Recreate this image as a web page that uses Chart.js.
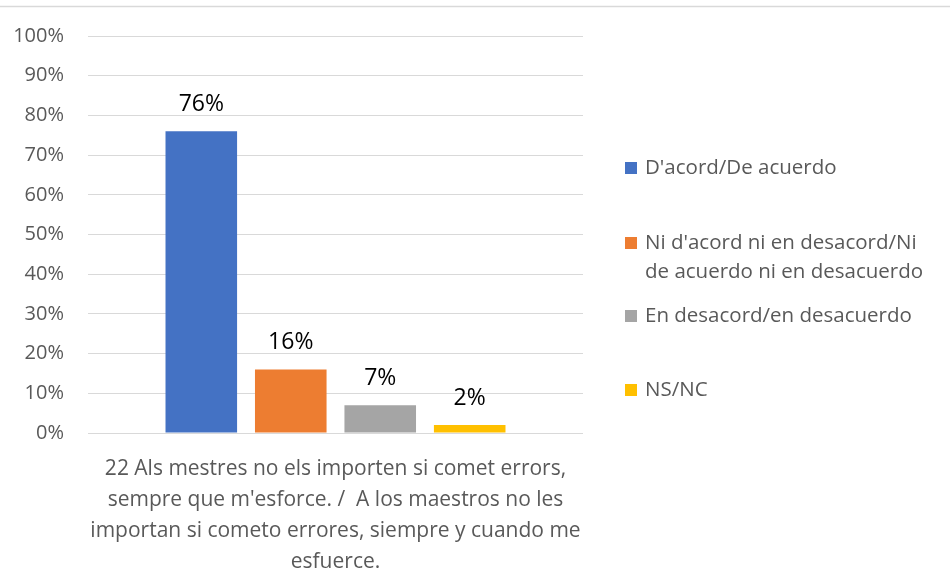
<!DOCTYPE html>
<html>
<head>
<meta charset="utf-8">
<script src="https://cdn.jsdelivr.net/npm/chart.js@4"></script>
<style>
  html, body { margin: 0; padding: 0; background: #fff; }
  #wrap { position: relative; width: 950px; height: 577px; }
  canvas { display: block; }
</style>
</head>
<body>
<div id="wrap"><canvas id="c" width="950" height="577"></canvas></div>
<script>
const categoryLines = [
  "22 Als mestres no els importen si comet errors,",
  "sempre que m'esforce. /  A los maestros no les",
  "importan si cometo errores, siempre y cuando me",
  "esfuerce."
];
const seriesNames = [
  "D'acord/De acuerdo",
  "Ni d'acord ni en desacord/Ni de acuerdo ni en desacuerdo",
  "En desacord/en desacuerdo",
  "NS/NC"
];
// legend text split into the lines it is shown on
const legendLines = [
  ["D'acord/De acuerdo"],
  ["Ni d'acord ni en desacord/Ni", "de acuerdo ni en desacuerdo"],
  ["En desacord/en desacuerdo"],
  ["NS/NC"]
];
const seriesValues = [76, 16, 7, 2];
const seriesColors = ["#4472C4", "#ED7D31", "#A5A5A5", "#FFC000"];
const yTicks = [0, 10, 20, 30, 40, 50, 60, 70, 80, 90, 100];

const FONT = "'Open Sans', 'Noto Sans', sans-serif";
const TEXT = "#595959";

const frameLine = {
  id: 'frameLine',
  beforeDraw(chart) {
    const ctx = chart.ctx;
    ctx.save();
    ctx.strokeStyle = '#d9d9d9';
    ctx.lineWidth = 1.5;
    ctx.beginPath();
    ctx.moveTo(0, 6.5);
    ctx.lineTo(chart.width, 6.5);
    ctx.stroke();
    ctx.restore();
  }
};

const valueLabels = {
  id: 'valueLabels',
  afterDatasetsDraw(chart) {
    const ctx = chart.ctx;
    ctx.save();
    ctx.font = "23px " + FONT;
    ctx.fillStyle = '#000';
    ctx.textAlign = 'center';
    ctx.textBaseline = 'alphabetic';
    chart.data.datasets.forEach((ds, i) => {
      const bar = chart.getDatasetMeta(i).data[0];
      ctx.fillText(ds.data[0] + '%', bar.x, bar.y - 20);
    });
    ctx.restore();
  }
};

const sideLegend = {
  id: 'sideLegend',
  afterDraw(chart) {
    const ctx = chart.ctx;
    const rows = [168, 243, 316, 390];
    ctx.save();
    ctx.font = "20.5px " + FONT;
    ctx.textBaseline = 'middle';
    ctx.textAlign = 'left';
    chart.data.datasets.forEach((ds, i) => {
      const y = rows[i];
      ctx.fillStyle = ds.backgroundColor;
      ctx.fillRect(625, y - 6, 12, 12);
      ctx.fillStyle = TEXT;
      legendLines[i].forEach((line, k) => {
        ctx.fillText(line, 645, y + k * 29);
      });
    });
    ctx.restore();
  }
};

new Chart(document.getElementById('c'), {
  type: 'bar',
  data: {
    labels: [categoryLines],
    datasets: seriesNames.map((name, i) => ({
      label: name,
      data: [seriesValues[i]],
      backgroundColor: seriesColors[i],
      borderWidth: 0,
      categoryPercentage: 0.723,
      barPercentage: 0.8
    }))
  },
  options: {
    responsive: false,
    animation: false,
    devicePixelRatio: 1,
    layout: { padding: { top: 35, right: 367, left: 0, bottom: 0 } },
    plugins: {
      legend: { display: false },
      tooltip: { enabled: false }
    },
    scales: {
      x: {
        grid: { display: false },
        border: { display: false },
        ticks: {
          color: TEXT,
          font: { family: FONT, size: 21, lineHeight: 1.47 },
          padding: 13,
          maxRotation: 0,
          autoSkip: false
        },
        afterFit(s) { s.height = 144; }
      },
      y: {
        min: 0,
        max: 100,
        afterBuildTicks(s) { s.ticks = yTicks.map(v => ({ value: v })); },
        grid: { color: '#d9d9d9', lineWidth: 1, drawTicks: false },
        border: { display: false },
        ticks: {
          color: TEXT,
          font: { family: FONT, size: 20 },
          padding: 24,
          callback: v => v + '%'
        },
        afterFit(s) { s.width = 88; }
      }
    }
  },
  plugins: [frameLine, valueLabels, sideLegend]
});
</script>
</body>
</html>
